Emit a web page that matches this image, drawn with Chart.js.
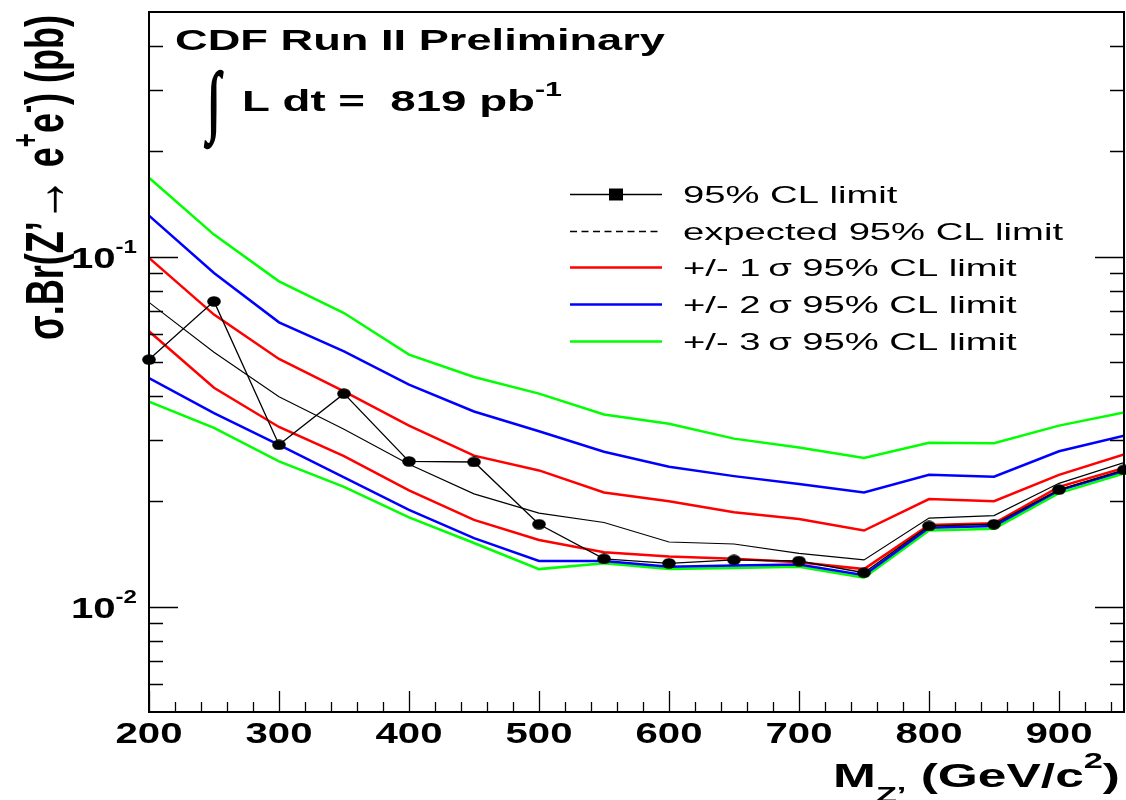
<!DOCTYPE html>
<html>
<head>
<meta charset="utf-8">
<script src="https://cdn.jsdelivr.net/npm/chart.js@4.4.0/dist/chart.umd.min.js"></script>
<style>
  body { margin: 0; background: #fff; }
  #wrap { width: 1126px; height: 800px; }
</style>
</head>
<body>
<div id="wrap"><canvas id="limitChart" width="1126" height="800"></canvas></div>
<script>
// Z' mass points (GeV/c^2)
const masses = [200, 250, 300, 350, 400, 450, 500, 550, 600, 650, 700, 750, 800, 850, 900, 950];
// sigma.Br limits (pb)
const observed = [0.0508, 0.0745, 0.0290, 0.0406, 0.0260, 0.0259, 0.0172, 0.0137, 0.0133, 0.0136, 0.0135, 0.0125, 0.0170, 0.0172, 0.0216, 0.0246];
const expected = [0.0740, 0.0533, 0.0398, 0.0321, 0.0255, 0.0210, 0.0185, 0.0174, 0.0153, 0.0151, 0.0142, 0.0136, 0.0179, 0.0182, 0.0225, 0.0258];
const plus1  = [0.0992, 0.0683, 0.0510, 0.0412, 0.0329, 0.0270, 0.0245, 0.0212, 0.0200, 0.0186, 0.0178, 0.0165, 0.0203, 0.0200, 0.0238, 0.0272];
const minus1 = [0.0612, 0.0422, 0.0326, 0.0269, 0.0215, 0.0177, 0.0155, 0.0143, 0.0139, 0.0137, 0.0134, 0.0128, 0.0171, 0.0173, 0.0220, 0.0249];
const plus2  = [0.1310, 0.0898, 0.0649, 0.0536, 0.0431, 0.0361, 0.0317, 0.0277, 0.0251, 0.0236, 0.0224, 0.0212, 0.0238, 0.0235, 0.0278, 0.0308];
const minus2 = [0.0450, 0.0357, 0.0290, 0.0234, 0.0189, 0.0157, 0.0135, 0.0135, 0.0130, 0.0131, 0.0132, 0.0123, 0.0168, 0.0170, 0.0215, 0.0244];
const plus3  = [0.1680, 0.1156, 0.0850, 0.0690, 0.0525, 0.0453, 0.0406, 0.0354, 0.0333, 0.0302, 0.0285, 0.0266, 0.0294, 0.0293, 0.0329, 0.0359];
const minus3 = [0.0385, 0.0324, 0.0260, 0.0220, 0.0180, 0.0152, 0.0128, 0.0133, 0.0128, 0.0129, 0.0130, 0.0121, 0.0165, 0.0167, 0.0211, 0.0240];

// axis ticks
const xMajorTicks = [200, 300, 400, 500, 600, 700, 800, 900];
const xTickLabels = ['200', '300', '400', '500', '600', '700', '800', '900'];
const yMajorTicks = [0.01, 0.1];
const yTickExponents = ['-2', '-1'];
const yMinorTicks = [0.006, 0.007, 0.008, 0.009, 0.02, 0.03, 0.04, 0.05, 0.06, 0.07, 0.08, 0.09, 0.2, 0.3, 0.4];

const legendLabels = ['95% CL limit', 'expected 95% CL limit', '+/- 1\u2009σ 95% CL limit', '+/- 2\u2009σ 95% CL limit', '+/- 3\u2009σ 95% CL limit'];
const legendColors = ['#000000', '#000000', '#ff0000', '#0000ff', '#00ff00'];

const SANS = '"Liberation Sans", Arial, Helvetica, sans-serif';

function points(values) {
    return masses.map((m, i) => ({ x: m, y: values[i] }));
}

// little ellipse marker (the original picture is stretched sideways)
function dotMarker() {
    const c = document.createElement('canvas');
    c.width = 14; c.height = 11;
    const g = c.getContext('2d');
    g.fillStyle = '#000';
    g.beginPath();
    g.ellipse(7, 5.5, 6.8, 5.2, 0, 0, Math.PI * 2);
    g.fill();
    return c;
}

function runsWidth(ctx, runs) {
    let w = 0;
    runs.forEach(r => { ctx.font = r.font; w += ctx.measureText(r.text).width; });
    return w;
}

function drawRuns(ctx, runs, x, y, sx, sy) {
    ctx.save();
    ctx.translate(x, y);
    ctx.scale(sx, sy || 1);
    let cx = 0;
    runs.forEach(r => {
        ctx.font = r.font;
        ctx.fillText(r.text, cx, r.dy || 0);
        cx += ctx.measureText(r.text).width;
    });
    ctx.restore();
}

// ROOT-like frame, inward ticks, labels and annotations
const rootFrame = {
    id: 'rootFrame',
    afterDraw(chart) {
        const ctx = chart.ctx;
        const area = chart.chartArea;
        const xs = chart.scales.x;
        const ys = chart.scales.y;

        ctx.save();
        ctx.fillStyle = '#000';
        ctx.strokeStyle = '#000';
        ctx.textAlign = 'left';
        ctx.textBaseline = 'alphabetic';

        // frame
        ctx.lineWidth = 2;
        ctx.strokeRect(area.left, area.top, area.right - area.left, area.bottom - area.top);

        // y ticks (left and right)
        ctx.lineWidth = 1.3;
        ctx.beginPath();
        yMajorTicks.forEach(v => {
            const py = Math.round(ys.getPixelForValue(v)) + 0.5;
            ctx.moveTo(area.left, py); ctx.lineTo(area.left + 29, py);
            ctx.moveTo(area.right, py); ctx.lineTo(area.right - 29, py);
        });
        yMinorTicks.forEach(v => {
            const py = Math.round(ys.getPixelForValue(v)) + 0.5;
            ctx.moveTo(area.left, py); ctx.lineTo(area.left + 14, py);
            ctx.moveTo(area.right, py); ctx.lineTo(area.right - 14, py);
        });
        // x ticks (bottom)
        for (let v = 200; v <= 950; v += 20) {
            const px = Math.round(xs.getPixelForValue(v)) + 0.5;
            const len = (v % 100 === 0) ? 21 : 10;
            ctx.moveTo(px, area.bottom); ctx.lineTo(px, area.bottom - len);
        }
        ctx.stroke();

        // tick labels
        const tickFont = 'bold 30px ' + SANS;
        ctx.font = tickFont;
        const tickSx = 67 / ctx.measureText('800').width;
        xMajorTicks.forEach((v, i) => {
            const px = xs.getPixelForValue(v);
            const runs = [{ text: xTickLabels[i], font: tickFont }];
            const w = runsWidth(ctx, runs) * tickSx;
            drawRuns(ctx, runs, px - w / 2, 743, tickSx);
        });
        yMajorTicks.forEach((v, i) => {
            const py = ys.getPixelForValue(v);
            const runs = [
                { text: '10', font: tickFont, dy: 0 },
                { text: yTickExponents[i], font: 'bold 18px ' + SANS, dy: -15 }
            ];
            const w = runsWidth(ctx, runs) * tickSx;
            drawRuns(ctx, runs, 137 - w, py + 11, tickSx);
        });

        // x axis title
        const xTitle = [
            { text: 'M', font: 'bold 33px ' + SANS },
            { text: 'Z’', font: 'bold 22px ' + SANS, dy: 15 },
            { text: ' (GeV/c', font: 'bold 33px ' + SANS },
            { text: '2', font: 'bold 22px ' + SANS, dy: -19 },
            { text: ')', font: 'bold 33px ' + SANS }
        ];
        drawRuns(ctx, xTitle, 833, 787, 287 / runsWidth(ctx, xTitle));

        // y axis title, rotated
        const yTitle = [
            { text: 'σ', font: 'bold 36px ' + SANS },
            { text: '.Br(Z’', font: 'bold 36px ' + SANS },
            { text: '→', font: '44px ' + SANS, dy: 2 },
            { text: ' e', font: 'bold 36px ' + SANS },
            { text: '+', font: 'bold 24px ' + SANS, dy: -17 },
            { text: 'e', font: 'bold 36px ' + SANS },
            { text: '-', font: 'bold 24px ' + SANS, dy: -17 },
            { text: ') (pb)', font: 'bold 36px ' + SANS }
        ];
        ctx.save();
        ctx.translate(63, 340);
        ctx.rotate(-Math.PI / 2);
        drawRuns(ctx, yTitle, 0, 0, 325 / runsWidth(ctx, yTitle), 1.5);
        ctx.restore();

        // experiment label
        const title = [{ text: 'CDF Run II Preliminary', font: 'bold 29px ' + SANS }];
        drawRuns(ctx, title, 175, 50, 490 / runsWidth(ctx, title));

        // integral sign fitted into its box
        ctx.font = '100px "Liberation Serif", serif';
        const m = ctx.measureText('∫');
        const gw = m.actualBoundingBoxLeft + m.actualBoundingBoxRight;
        const gh = m.actualBoundingBoxAscent + m.actualBoundingBoxDescent;
        ctx.save();
        ctx.translate(204, 70);
        ctx.scale(19 / gw, 78 / gh);
        ctx.lineWidth = 3;
        ctx.fillText('∫', m.actualBoundingBoxLeft, m.actualBoundingBoxAscent);
        ctx.strokeText('∫', m.actualBoundingBoxLeft, m.actualBoundingBoxAscent);
        ctx.restore();

        const lumi = [
            { text: 'L dt =  819 pb', font: 'bold 30px ' + SANS },
            { text: '-1', font: 'bold 20px ' + SANS, dy: -15 }
        ];
        drawRuns(ctx, lumi, 242, 111, 320 / runsWidth(ctx, lumi));

        // legend
        const rows = [194, 231, 267, 304, 341];
        const legFont = '24px ' + SANS;
        ctx.font = legFont;
        const legSx = 380 / ctx.measureText(legendLabels[1]).width;
        rows.forEach((ry, i) => {
            ctx.save();
            ctx.strokeStyle = legendColors[i];
            ctx.lineWidth = i < 2 ? 1.3 : 2.5;
            if (i === 1) ctx.setLineDash([7, 4.5]);
            ctx.beginPath();
            ctx.moveTo(570, ry + 0.5);
            ctx.lineTo(662, ry + 0.5);
            ctx.stroke();
            ctx.restore();
            if (i === 0) ctx.fillRect(609, 188.5, 14, 12);
            drawRuns(ctx, [{ text: legendLabels[i], font: legFont }], 683, ry + 8.5, legSx);
        });

        ctx.restore();
    }
};

const ctx = document.getElementById('limitChart').getContext('2d');
const limitChart = new Chart(ctx, {
    type: 'line',
    data: {
        datasets: [
            { label: '95% CL limit', data: points(observed), borderColor: '#000', borderWidth: 1.3,
              pointStyle: dotMarker(), pointRadius: 6, clip: false },
            { label: 'expected 95% CL limit', data: points(expected), borderColor: '#000', borderWidth: 1.1, pointRadius: 0 },
            { label: '+1 sigma', data: points(plus1), borderColor: '#ff0000', borderWidth: 2.5, pointRadius: 0 },
            { label: '-1 sigma', data: points(minus1), borderColor: '#ff0000', borderWidth: 2.5, pointRadius: 0 },
            { label: '+2 sigma', data: points(plus2), borderColor: '#0000ff', borderWidth: 2.5, pointRadius: 0 },
            { label: '-2 sigma', data: points(minus2), borderColor: '#0000ff', borderWidth: 2.5, pointRadius: 0 },
            { label: '+3 sigma', data: points(plus3), borderColor: '#00ff00', borderWidth: 2.5, pointRadius: 0 },
            { label: '-3 sigma', data: points(minus3), borderColor: '#00ff00', borderWidth: 2.5, pointRadius: 0 }
        ]
    },
    options: {
        responsive: false,
        animation: false,
        layout: { autoPadding: false, padding: { left: 149, right: 2, top: 12, bottom: 88 } },
        elements: { line: { tension: 0, fill: false } },
        scales: {
            x: { type: 'linear', min: 200, max: 950, display: false },
            y: { type: 'logarithmic', min: 0.005, max: 0.5, display: false }
        },
        plugins: {
            legend: { display: false },
            tooltip: { enabled: false }
        }
    },
    plugins: [rootFrame]
});
</script>
</body>
</html>
